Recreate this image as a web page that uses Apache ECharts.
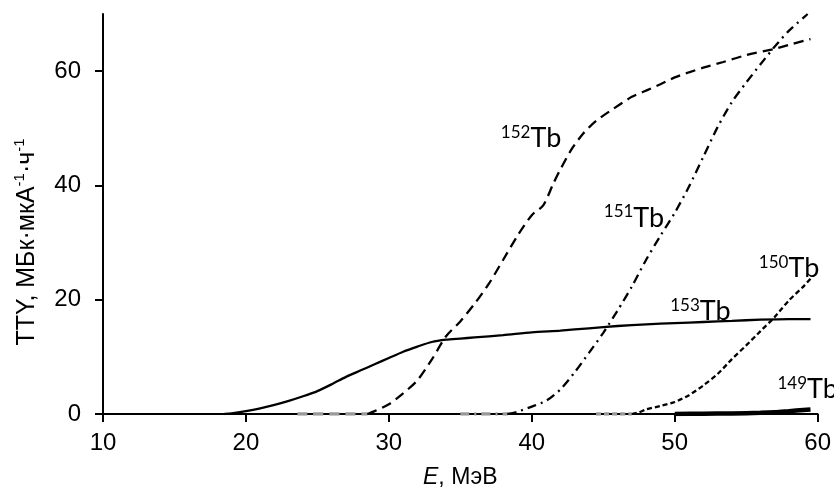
<!DOCTYPE html>
<html>
<head>
<meta charset="utf-8">
<script src="https://cdn.jsdelivr.net/npm/echarts@6/dist/echarts.min.js"></script>
<style>html,body{margin:0;padding:0;background:#fff}#c{width:834px;height:495px}</style>
</head>
<body>
<div id="c"></div>
<script>
// ---- data (E in MeV, TTY in MBq/uA/h) ----
var xTicks = [10, 20, 30, 40, 50, 60];
var yTicks = [0, 20, 40, 60];

var tb153 = [[18.5,0],[19,0.1],[20,0.5],[21,1.0],[22,1.6],[23,2.3],[24,3.1],[25,4.0],[26,5.2],[27,6.5],[28,7.6],[29,8.7],[30,9.8],[31,10.9],[32,11.8],[33,12.6],[34,13.0],[35,13.2],[36,13.4],[38,13.8],[40,14.3],[42,14.6],[44,15.0],[46,15.4],[48,15.7],[50,15.9],[52,16.1],[54,16.3],[56,16.5],[58,16.6],[59.5,16.6]];

var tb152Zero = [[23.6,0],[28.5,0]];
var tb152 = [[28.5,0],[29,0.5],[30,1.7],[31,3.6],[32,5.9],[33,9.5],[34,13.6],[35,16.2],[36,19.3],[37,22.8],[38,27.0],[39,31.2],[40,34.8],[40.8,36.5],[41.5,40.3],[42,42.8],[42.8,46.4],[43.6,49.1],[44.5,51.3],[45.7,53.4],[47,55.5],[48,56.6],[49,57.7],[50,58.9],[51,59.8],[52,60.6],[53.4,61.6],[55,62.8],[57,63.9],[58,64.6],[59.5,65.6]];

var tb151Zero = [[35,0],[38.3,0]];
var tb151 = [[38.3,0],[39,0.4],[40,1.3],[41,2.3],[42,4.3],[43,7.3],[44,10.7],[45,14.2],[46,18.1],[47,22.3],[48,27.0],[49,31.2],[50,35.2],[51,39.8],[52,45.0],[53,50.2],[54,54.6],[55,58.0],[56,61.2],[57,64.3],[58,67.1],[59.3,70]];

var tb150Zero = [[44.5,0],[47,0]];
var tb150 = [[47,0],[47.5,0.3],[48,0.8],[49,1.4],[50,2.1],[51,3.3],[52,5.0],[53,7.0],[54,9.6],[55,12.0],[56,14.5],[57,17.0],[58,19.9],[59,22.3],[59.5,23.7]];

var tb149 = [[50,0],[52,0.05],[54,0.1],[56,0.2],[57,0.3],[58,0.5],[59,0.7],[59.5,0.8]];

var isotopeNames = ['152', '151', '150', '153', '149'];
var labelAnchors = [[39.95,48.3],[47.15,34.4],[58.0,25.5],[51.8,18.0],[59.3,4.4]];

// ---- chart ----
var chart = echarts.init(document.getElementById('c'), null, {renderer:'canvas'});
var FONT = 'Liberation Sans, Arial, sans-serif';
var LFONT = 'Lato, Open Sans, sans-serif';

function tbLabel(i){
  return {
    coord: labelAnchors[i],
    symbol: 'circle', symbolSize: 0,
    label: {
      show: true, position: 'inside',
      formatter: '{s|' + isotopeNames[i] + '}{t|Tb}',
      rich: {
        s: {fontFamily: LFONT, fontSize: 17, color: '#000', lineHeight: 28, verticalAlign: 'top'},
        t: {fontFamily: LFONT, fontSize: 27, color: '#000', lineHeight: 28, verticalAlign: 'bottom'}
      }
    }
  };
}
function mp(i){ return {silent:true, animation:false, data:[tbLabel(i)]}; }

function line(data, type, width, color, extra){
  var s = {
    type: 'line', data: data, showSymbol: false, symbol: 'none', smooth: 0.25,
    animation: false, silent: true, clip: true,
    lineStyle: {color: color || '#000', width: width, type: type, cap: 'butt'}
  };
  if (extra) for (var k in extra) s[k] = extra[k];
  return s;
}

chart.setOption({
  backgroundColor: '#fff',
  animation: false,
  grid: {left: 103, right: 16, top: 14, bottom: 81, containLabel: false},
  xAxis: {
    type: 'value', min: xTicks[0], max: xTicks[xTicks.length-1], interval: 10,
    name: '{i|E}{n|, МэВ}', nameLocation: 'middle', nameGap: 52,
    nameTextStyle: {rich: {
      i: {fontFamily: FONT, fontSize: 23, fontStyle: 'italic', color: '#000'},
      n: {fontFamily: FONT, fontSize: 23, color: '#000'}
    }},
    axisLine: {lineStyle: {color: '#000', width: 2}},
    axisTick: {show: true, inside: false, length: 8, lineStyle: {color: '#000', width: 2}},
    axisLabel: {fontFamily: FONT, fontSize: 24, color: '#000', margin: 17},
    splitLine: {show: false}
  },
  yAxis: {
    type: 'value', min: yTicks[0], max: 70, interval: 20,
    axisLine: {show: true, lineStyle: {color: '#000', width: 2}},
    axisTick: {show: true, inside: false, length: 8, lineStyle: {color: '#000', width: 2}},
    axisLabel: {fontFamily: FONT, fontSize: 24, color: '#000', margin: 22, showMaxLabel: false},
    splitLine: {show: false}
  },
  graphic: [{
    type: 'text', x: 26, y: 242, rotation: Math.PI / 2,
    style: {
      text: '{a|TTY, МБк·мкА}{s|-1}{a|·ч}{s|-1}',
      align: 'center', verticalAlign: 'middle',
      rich: {
        a: {fontFamily: FONT, fontSize: 25, color: '#000', lineHeight: 28, verticalAlign: 'bottom'},
        s: {fontFamily: FONT, fontSize: 15, color: '#000', lineHeight: 28, verticalAlign: 'top'}
      }
    }
  }],
  series: [
    line(tb152Zero, [10, 6], 3.5, '#9a9a9a'),
    line(tb151Zero, [9, 5, 2, 5], 3.5, '#9a9a9a'),
    line(tb150Zero, [5, 3], 3.5, '#9a9a9a'),
    line(tb153, 'solid', 2.3, '#000', {markPoint: mp(3)}),
    line(tb152, [10, 6], 2.3, '#000', {markPoint: mp(0)}),
    line(tb151, [9, 5, 2, 5], 2.3, '#000', {markPoint: mp(1)}),
    line(tb150, [5, 3], 2.3, '#000', {markPoint: mp(2)}),
    line(tb149, 'solid', 4.5, '#000', {markPoint: mp(4)})
  ]
});
</script>
</body>
</html>
